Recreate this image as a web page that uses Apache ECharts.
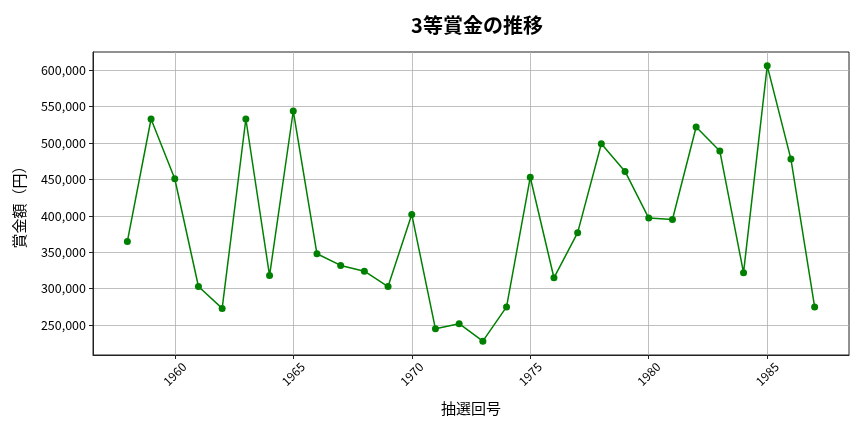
<!DOCTYPE html>
<html>
<head>
<meta charset="utf-8">
<script src="https://cdn.jsdelivr.net/npm/echarts@6/dist/echarts.min.js"></script>
<style>
  html, body { margin: 0; padding: 0; background: #fff; }
  #chart { width: 864px; height: 432px; }
</style>
</head>
<body>
<div id="chart"></div>
<script>
// 抽選回号と3等賞金
var years = [1958, 1959, 1960, 1961, 1962, 1963, 1964, 1965, 1966, 1967,
             1968, 1969, 1970, 1971, 1972, 1973, 1974, 1975, 1976, 1977,
             1978, 1979, 1980, 1981, 1982, 1983, 1984, 1985, 1986, 1987];
var prizes = [365000, 533000, 451000, 303000, 273000, 533000, 318000, 544000, 348000, 332000,
              324000, 303000, 402000, 245000, 252000, 228000, 275000, 453000, 315000, 377000,
              499000, 461000, 397000, 395000, 522000, 489000, 322000, 606000, 478000, 275000];
var xTicks = [1960, 1965, 1970, 1975, 1980, 1985];
var yTicks = [250000, 300000, 350000, 400000, 450000, 500000, 550000, 600000];

var font = '"Noto Sans CJK JP", "Noto Sans", sans-serif';
var chart = echarts.init(document.getElementById('chart'));

var points = years.map(function (y, i) { return [y, prizes[i]]; });

chart.setOption({
    animation: false,
    textStyle: { fontFamily: font },
    title: {
        text: '3等賞金の推移',
        left: 472,
        textAlign: 'center',
        top: 10,
        textStyle: { fontSize: 20, fontWeight: 'bold', color: '#000', fontFamily: font }
    },
    grid: {
        left: 93, right: 15, top: 52, bottom: 77,
        show: true, borderColor: '#222', borderWidth: 1
    },
    xAxis: {
        type: 'value',
        min: 1956.55,
        max: 1988.45,
        name: '抽選回号',
        nameLocation: 'middle',
        nameGap: 46,
        nameTextStyle: { fontSize: 15, color: '#000' },
        axisLine: { show: true, lineStyle: { color: '#222' } },
        axisTick: { show: true, length: 4, customValues: xTicks, lineStyle: { color: '#222' } },
        axisLabel: {
            customValues: xTicks, rotate: 45, fontSize: 12, color: '#000', margin: 19,
            align: 'center', verticalAlign: 'middle',
            formatter: function (v) { return String(v); }
        },
        splitLine: { show: true, lineStyle: { color: '#b0b0b0', width: 0.8 } }
    },
    yAxis: {
        type: 'value',
        min: 209000,
        max: 625000,
        name: '賞金額（円）',
        nameLocation: 'middle',
        nameRotate: 90,
        nameGap: 66,
        nameTextStyle: { fontSize: 15, color: '#000' },
        axisLine: { show: true, lineStyle: { color: '#222' } },
        axisTick: { show: true, length: 4, customValues: yTicks, lineStyle: { color: '#222' } },
        axisLabel: {
            customValues: yTicks, fontSize: 12.5, color: '#000', margin: 7,
            formatter: function (v) { return v.toLocaleString('en-US'); }
        },
        splitLine: { show: true, lineStyle: { color: '#b0b0b0', width: 0.8 } }
    },
    series: [{
        type: 'line',
        data: points,
        symbol: 'circle',
        symbolSize: 7,
        lineStyle: { color: '#008000', width: 1.5 },
        itemStyle: { color: '#008000' }
    }]
});
</script>
</body>
</html>
